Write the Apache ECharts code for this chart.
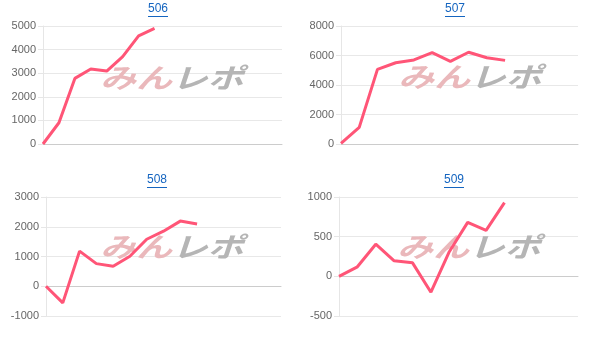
<!DOCTYPE html>
<html><head><meta charset="utf-8">
<script src="https://cdn.jsdelivr.net/npm/echarts@6/dist/echarts.min.js"></script>
<style>html,body{margin:0;padding:0;background:#fff}#c{width:607px;height:338px}</style>
</head><body><div id="c"></div>
<script>
const titles = ['506', '507', '508', '509'];
const categoryCounts = [16, 14, 15, 14];
const values506 = [0, 900, 2780, 3180, 3090, 3700, 4580, 4900];
const values507 = [50, 1130, 5060, 5510, 5700, 6190, 5600, 6220, 5850, 5670];
const values508 = [0, -560, 1180, 760, 670, 1010, 1580, 1850, 2190, 2090];
const values509 = [0, 120, 405, 195, 170, -200, 310, 680, 580, 930];
const yMin = [0, 0, -1000, -500];
const yMax = [5000, 8000, 3000, 1000];
const yInterval = [1000, 2000, 1000, 500];
const seriesValues = [values506, values507, values508, values509];

const grids = [
  {left: 43, top: 26, width: 239, height: 118},
  {left: 341, top: 26, width: 237, height: 118},
  {left: 46, top: 197, width: 235, height: 119},
  {left: 339, top: 197, width: 239, height: 119}
];
const titlePos = [[158, 3], [455, 3], [157, 174], [454, 174]];
const wmPos = [[172, 78], [470, 77], [172, 247], [469, 247]];

const chart = echarts.init(document.getElementById('c'));
const option = {
  animation: false,
  title: titles.map((t, i) => ({
    text: t, left: titlePos[i][0] - 10, top: titlePos[i][1], padding: 0,
    textStyle: {color: '#1565c0', fontSize: 12, fontWeight: 'normal', fontFamily: 'Arial, Liberation Sans, sans-serif'}
  })),
  grid: grids,
  xAxis: grids.map((g, i) => ({
    type: 'category', gridIndex: i, boundaryGap: false,
    data: Array.from({length: categoryCounts[i]}, (_, k) => String(k + 1)),
    axisLabel: {show: false}, axisTick: {show: false},
    axisLine: {onZero: true, lineStyle: {color: '#cccccc', width: 1}}
  })),
  yAxis: grids.map((g, i) => ({
    type: 'value', gridIndex: i, min: yMin[i], max: yMax[i], interval: yInterval[i],
    axisLine: {show: true, lineStyle: {color: '#e6e6e6'}},
    axisTick: {show: true, length: 5, lineStyle: {color: '#e6e6e6'}},
    splitLine: {lineStyle: {color: '#e8e8e8'}},
    axisLabel: {color: '#666', fontSize: 11, margin: 7, fontFamily: 'Arial, Liberation Sans, sans-serif',
      formatter: (v) => String(v)}
  })),
  series: seriesValues.map((v, i) => ({
    type: 'line', xAxisIndex: i, yAxisIndex: i, data: v, symbol: 'none', z: 5,
    lineStyle: {color: '#ff5577', width: 3}
  })),
  graphic: [].concat(
    titles.map((t, i) => ({
      type: 'line', z: 10,
      shape: {x1: titlePos[i][0] - 10, y1: titlePos[i][1] + 13.5, x2: titlePos[i][0] + 10, y2: titlePos[i][1] + 13.5},
      style: {stroke: '#1565c0', lineWidth: 1}
    })),
    wmPos.map((p) => ({
      type: 'text', z: 1, x: p[0], y: p[1], scaleX: 1.12, scaleY: 0.85,
      style: {
        text: '{a|みん}{b|レポ}', align: 'center', verticalAlign: 'middle',
        rich: {
          a: {fill: '#eab8bb', fontSize: 32, fontWeight: 'bold', fontStyle: 'italic', fontFamily: 'Noto Sans CJK JP'},
          b: {fill: '#b5b5b5', fontSize: 32, fontWeight: 'bold', fontStyle: 'italic', fontFamily: 'Noto Sans CJK JP'}
        }
      }
    }))
  )
};
chart.setOption(option);
</script></body></html>
